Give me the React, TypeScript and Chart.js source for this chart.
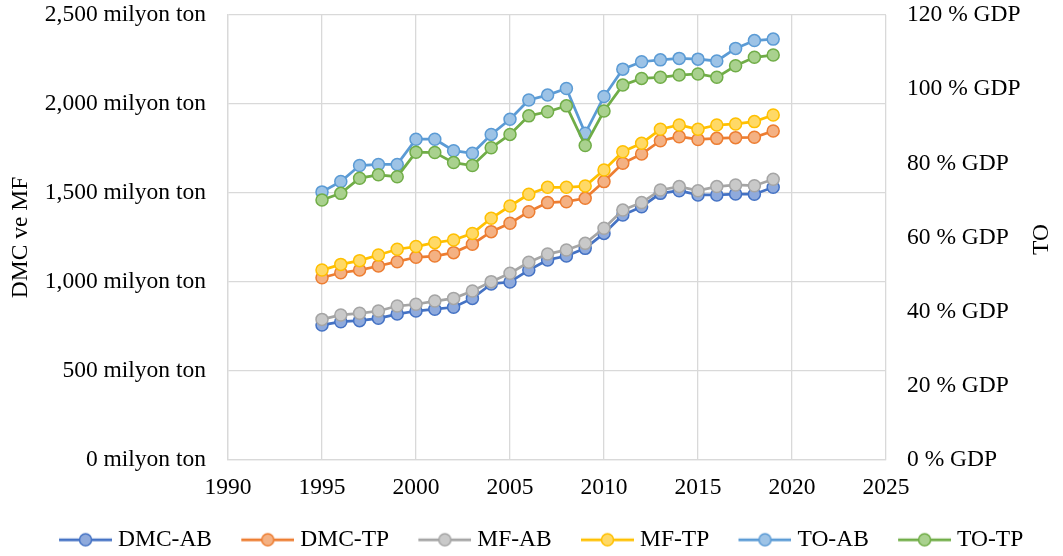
import React, { useEffect, useRef } from 'react';
import { Chart, registerables } from 'chart.js';

Chart.register(...registerables);

const years = [1995, 1996, 1997, 1998, 1999, 2000, 2001, 2002, 2003, 2004, 2005, 2006, 2007, 2008, 2009, 2010, 2011, 2012, 2013, 2014, 2015, 2016, 2017, 2018, 2019];
const dmcAB = [758, 777, 783, 796, 820, 837, 847, 858, 908, 989, 1000, 1067, 1124, 1146, 1189, 1273, 1376, 1423, 1498, 1513, 1489, 1489, 1494, 1493, 1532];
const dmcTP = [1024, 1052, 1067, 1090, 1114, 1139, 1146, 1165, 1212, 1283, 1330, 1395, 1446, 1451, 1470, 1564, 1667, 1719, 1794, 1816, 1801, 1807, 1811, 1813, 1848];
const mfAB = [790, 815, 824, 837, 865, 875, 893, 908, 949, 1002, 1049, 1111, 1157, 1180, 1217, 1302, 1404, 1446, 1517, 1536, 1513, 1536, 1545, 1541, 1577];
const mfTP = [1067, 1099, 1120, 1152, 1184, 1199, 1221, 1236, 1273, 1358, 1427, 1493, 1532, 1532, 1539, 1629, 1732, 1779, 1858, 1882, 1858, 1882, 1888, 1901, 1938];
const toAB = [72.3, 75.1, 79.4, 79.7, 79.7, 86.5, 86.5, 83.4, 82.7, 87.8, 91.9, 97.1, 98.4, 100.2, 88.1, 98.0, 105.4, 107.4, 107.9, 108.3, 108.1, 107.6, 111.0, 113.1, 113.5];
const toTP = [70.1, 71.9, 76.0, 76.9, 76.4, 83.0, 82.9, 80.2, 79.4, 84.2, 87.8, 92.8, 93.9, 95.5, 84.8, 94.1, 101.1, 102.9, 103.2, 103.8, 104.1, 103.2, 106.3, 108.6, 109.2];

const seriesNames = ['DMC-AB', 'DMC-TP', 'MF-AB', 'MF-TP', 'TO-AB', 'TO-TP'];
const seriesValues = [dmcAB, dmcTP, mfAB, mfTP, toAB, toTP];
const seriesAxis = ['y', 'y', 'y', 'y', 'y1', 'y1'];
const lineColors = ['#4472C4', '#ED7D31', '#A5A5A5', '#FFC000', '#5B9BD5', '#70AD47'];
const fillColors = ['#8FAADC', '#F4B183', '#C9C9C9', '#FFD966', '#9DC3E6', '#A9D18E'];

const leftTitle = 'DMC ve MF';
const rightTitle = 'TO';
const leftUnit = ' milyon ton';
const rightUnit = ' % GDP';

const FONT = 'Liberation Serif';
const FS = 23.5;

function makeLegendImage(line: string, fill: string): HTMLCanvasElement {
  const c = document.createElement('canvas');
  const W = 78;
  const H = 16;
  c.width = W;
  c.height = H;
  const ctx = c.getContext('2d')!;
  const M = 25;
  ctx.strokeStyle = line;
  ctx.lineWidth = 2.75;
  ctx.beginPath();
  ctx.moveTo(M, H / 2);
  ctx.lineTo(W, H / 2);
  ctx.stroke();
  ctx.beginPath();
  ctx.arc(M + (W - M) / 2, H / 2, 6, 0, Math.PI * 2);
  ctx.fillStyle = fill;
  ctx.fill();
  ctx.lineWidth = 1.5;
  ctx.stroke();
  return c;
}

export default function App() {
  const ref = useRef<HTMLCanvasElement | null>(null);

  useEffect(() => {
    if (!ref.current) return;
    const legendImages = seriesNames.map((_, i) => makeLegendImage(lineColors[i], fillColors[i]));

    const datasets = seriesNames.map((name, i) => ({
      label: name,
      data: years.map((yr, k) => ({ x: yr, y: seriesValues[i][k] })),
      yAxisID: seriesAxis[i],
      borderColor: lineColors[i],
      backgroundColor: fillColors[i],
      pointBackgroundColor: fillColors[i],
      pointBorderColor: lineColors[i],
      pointRadius: 6,
      pointBorderWidth: 1.5,
      borderWidth: 2.75,
      tension: 0,
      order: seriesNames.length - 1 - i,
    }));

    const rightTitlePlugin = {
      id: 'rightTitle',
      afterDraw(chart: any) {
        const ctx = chart.ctx;
        const area = chart.chartArea;
        ctx.save();
        ctx.font = `${FS}px "${FONT}"`;
        ctx.fillStyle = '#000';
        ctx.textAlign = 'center';
        ctx.textBaseline = 'middle';
        ctx.translate(1042, (area.top + area.bottom) / 2 + 2);
        ctx.rotate(-Math.PI / 2);
        ctx.fillText(rightTitle, 0, 0);
        ctx.restore();
      },
    };

    const gridColor = '#D9D9D9';

    const chart = new Chart(ref.current, {
      type: 'line',
      data: { datasets },
      plugins: [rightTitlePlugin],
      options: {
        animation: false,
        responsive: false,
        devicePixelRatio: 1,
        layout: { padding: { top: 15, left: 0, right: 0, bottom: 0 } },
        plugins: {
          tooltip: { enabled: false },
          legend: {
            position: 'bottom',
            maxHeight: 38,
            labels: {
              usePointStyle: true,
              pointStyleWidth: 66.5,
              padding: 10,
              color: '#000',
              font: { family: FONT, size: FS },
              generateLabels: () =>
                seriesNames.map((name, i) => ({
                  text: name,
                  datasetIndex: i,
                  pointStyle: legendImages[i],
                  fillStyle: fillColors[i],
                  strokeStyle: lineColors[i],
                  lineWidth: 0,
                  fontColor: '#000',
                  hidden: false,
                })),
            },
          },
        },
        scales: {
          x: {
            type: 'linear',
            position: 'bottom',
            min: 1990,
            max: 2025,
            afterFit: (s: any) => { s.height = 58; },
            ticks: {
              stepSize: 5,
              padding: 14,
              color: '#000',
              font: { family: FONT, size: FS },
              callback: (v: any) => String(v),
            },
            grid: { color: gridColor, lineWidth: 1.3, drawTicks: false },
            border: { color: gridColor, width: 1.3 },
          },
          y: {
            type: 'linear',
            position: 'left',
            min: 0,
            max: 2500,
            afterFit: (s: any) => { s.width = 228; s.paddingTop = 10; s.paddingBottom = 10; },
            ticks: {
              stepSize: 500,
              padding: 22,
              color: '#000',
              font: { family: FONT, size: FS },
              callback: (v: any) => Number(v).toLocaleString('en-US') + leftUnit,
            },
            title: {
              display: true,
              text: leftTitle,
              color: '#000',
              font: { family: FONT, size: FS },
              padding: { top: 7, bottom: 0 },
            },
            grid: { color: gridColor, lineWidth: 1.3, drawTicks: false },
            border: { color: gridColor, width: 1.3 },
          },
          y1: {
            type: 'linear',
            position: 'right',
            min: 0,
            max: 120,
            afterFit: (s: any) => { s.width = 177; s.paddingTop = 10; s.paddingBottom = 10; },
            ticks: {
              stepSize: 20,
              padding: 21,
              color: '#000',
              font: { family: FONT, size: FS },
              callback: (v: any) => String(v) + rightUnit,
            },
            grid: { display: false, drawTicks: false },
            border: { display: false },
          },
        },
      },
    });
    return () => chart.destroy();
  }, []);

  return (
    <div style={{ position: 'absolute', left: 0, top: 0, width: 1063, height: 556, background: '#fff' }}>
      <canvas ref={ref} width={1063} height={556} />
    </div>
  );
}
